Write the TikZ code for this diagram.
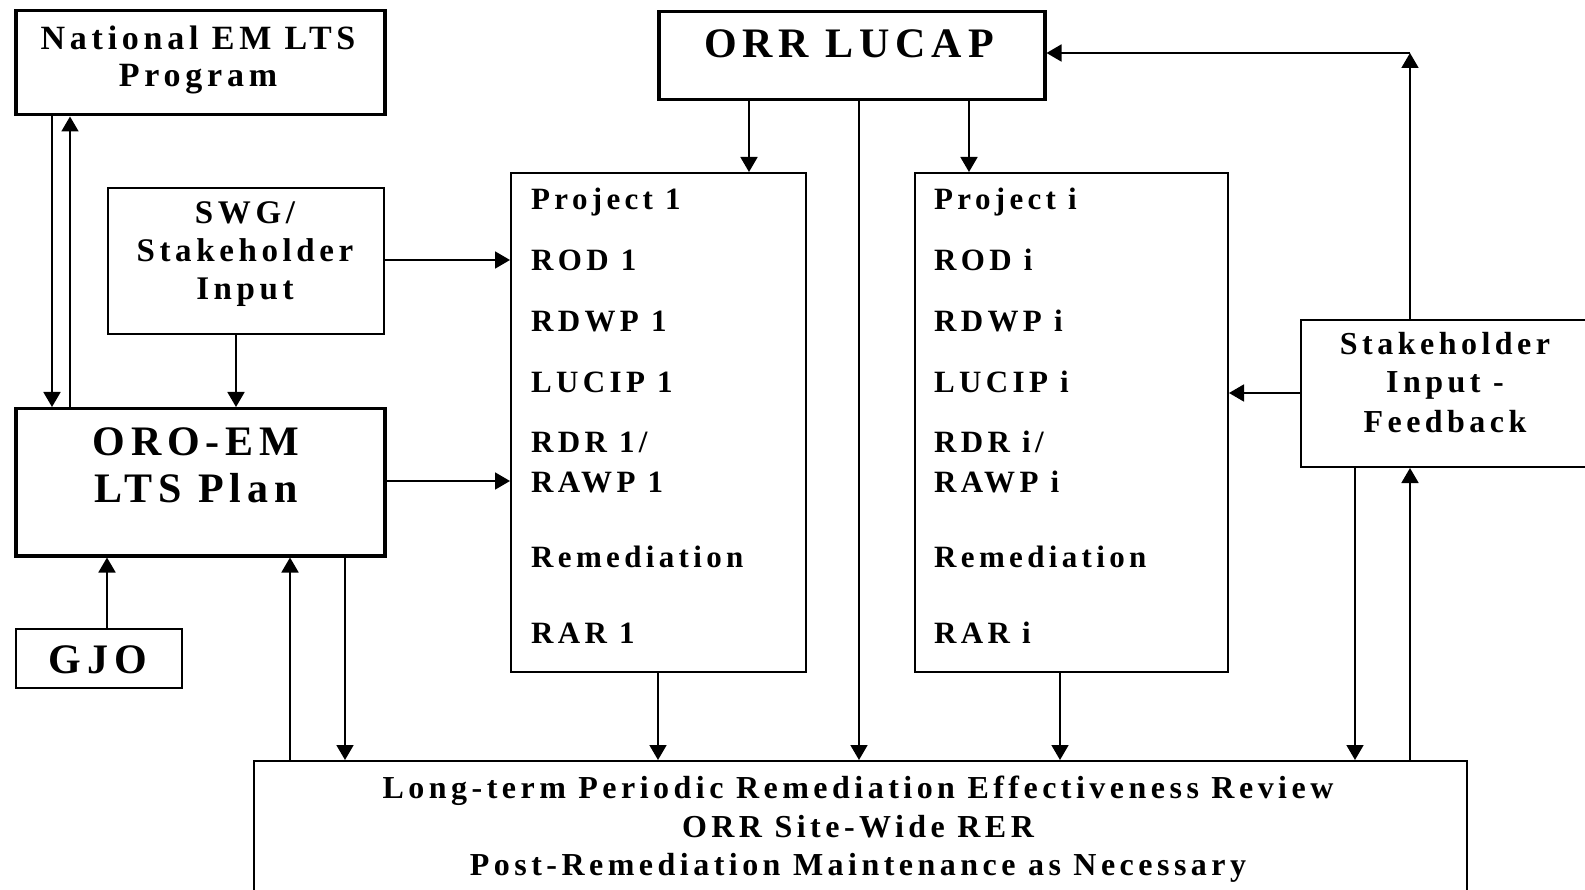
\documentclass[tikz,border=0pt]{standalone}
\usepackage{fontspec}
\setmainfont{Liberation Serif}[LetterSpace=14]
\usetikzlibrary{arrows.meta}

\tikzset{
  bigbox/.style={draw,line width=3.5pt,inner sep=0pt,anchor=north west},
  thinbox/.style={draw,line width=2pt,inner sep=0pt,anchor=north west},
  link/.style={line width=1.8pt,->},
  txt/.style={font=\bfseries\fontsize{32}{38}\selectfont,inner sep=0pt,anchor=base},
  bigtxt/.style={font=\bfseries\fontsize{42}{47}\selectfont,inner sep=0pt,anchor=base},
  projtxt/.style={font=\bfseries\fontsize{31}{36}\selectfont,inner sep=0pt,anchor=base west},
}

\begin{document}
\begin{tikzpicture}[x=1pt,y=-1pt,>={Triangle[width=17pt,length=15pt]}]
  \useasboundingbox (0,0) rectangle (1585,890);

  % boxes
  \node[bigbox,minimum width=369pt,minimum height=104pt] (nat) at (14,9) {};
  \node[thinbox,minimum width=276pt,minimum height=146pt] (swg) at (107,187) {};
  \node[bigbox,minimum width=369pt,minimum height=147pt] (oro) at (14,407) {};
  \node[thinbox,minimum width=166pt,minimum height=59pt] (gjo) at (15,628) {};
  \node[bigbox,minimum width=386pt,minimum height=88pt] (lucap) at (657,10) {};
  \node[thinbox,minimum width=295pt,minimum height=499pt] (proj1) at (510,172) {};
  \node[thinbox,minimum width=313pt,minimum height=499pt] (proji) at (914,172) {};
  \node[thinbox,minimum width=300pt,minimum height=147pt] (feed) at (1300,319) {};
  \node[thinbox,minimum width=1213pt,minimum height=160pt] (rer) at (253,760) {};

  % texts
  \node[txt,font=\bfseries\fontsize{34}{40}\selectfont] (nat1) at (198,50) {National EM LTS};
  \node[txt,font=\bfseries\fontsize{34}{40}\selectfont] (nat2) at (198,87) {Program};
  \foreach \t/\y [count=\i] in {{SWG/}/224, Stakeholder/262, Input/300}
    \node[txt,font=\bfseries\fontsize{33}{38}\selectfont] (swg\i) at (245,\y) {\t};
  \node[bigtxt] (oro1) at (196,455) {ORO-EM};
  \node[bigtxt] (oro2) at (196,502) {LTS Plan};
  \node[bigtxt] (gjo1) at (98,673) {GJO};
  \node[bigtxt] (lucap1) at (849,58) {ORR LUCAP};
  \foreach \t/\y [count=\i] in {Project 1/210, ROD 1/271, RDWP 1/332, LUCIP 1/393,
      {RDR 1/}/453, RAWP 1/492, Remediation/567, RAR 1/643}
    \node[projtxt] (pa\i) at (531,\y) {\t};
  \foreach \t/\y [count=\i] in {Project i/210, ROD i/271, RDWP i/332, LUCIP i/393,
      {RDR i/}/453, RAWP i/492, Remediation/567, RAR i/643}
    \node[projtxt] (pb\i) at (934,\y) {\t};
  \foreach \t/\y [count=\i] in {Stakeholder/355, Input -/393, Feedback/432}
    \node[txt] (feed\i) at (1445,\y) {\t};
  \node[txt] (rer1) at (858,798) {Long-term Periodic Remediation Effectiveness Review};
  \node[txt] (rer2) at (858,837) {ORR Site-Wide RER};
  \node[txt] (rer3) at (858,875) {Post-Remediation Maintenance as Necessary};

  % connectors
  \draw[link] (nat.south -| 52,0) -- (oro.north -| 52,0);
  \draw[link] (oro.north -| 70,0) -- (nat.south -| 70,0);
  \draw[link] (swg.south) ++(-10,0) coordinate (s1) -- (s1 |- oro.north);
  \draw[link] (swg.east |- 0,260) -- (proj1.west |- 0,260);
  \draw[link] (oro.east |- 0,481) -- (proj1.west |- 0,481);
  \draw[link] (gjo.north -| 107,0) -- (oro.south -| 107,0);
  \draw[link] (rer.north -| 290,0) -- (oro.south -| 290,0);
  \draw[link] (oro.south -| 345,0) -- (rer.north -| 345,0);
  \draw[link] (lucap.south -| 749,0) -- (proj1.north -| 749,0);
  \draw[link] (lucap.south -| 859,0) -- (rer.north -| 859,0);
  \draw[link] (lucap.south -| 969,0) -- (proji.north -| 969,0);
  \draw[link] (proj1.south -| 658,0) -- (rer.north -| 658,0);
  \draw[link] (proji.south -| 1060,0) -- (rer.north -| 1060,0);
  \draw[link] (feed.west |- 0,393) -- (proji.east |- 0,393);
  \draw[link] (feed.south -| 1355,0) -- (rer.north -| 1355,0);
  \draw[link] (rer.north -| 1410,0) -- (feed.south -| 1410,0);
  \coordinate (turn) at (1410,53);
  \draw[link] (feed.north -| turn) -- (turn);
  \draw[link] (turn) -- (lucap.east |- turn);
\end{tikzpicture}
\end{document}
